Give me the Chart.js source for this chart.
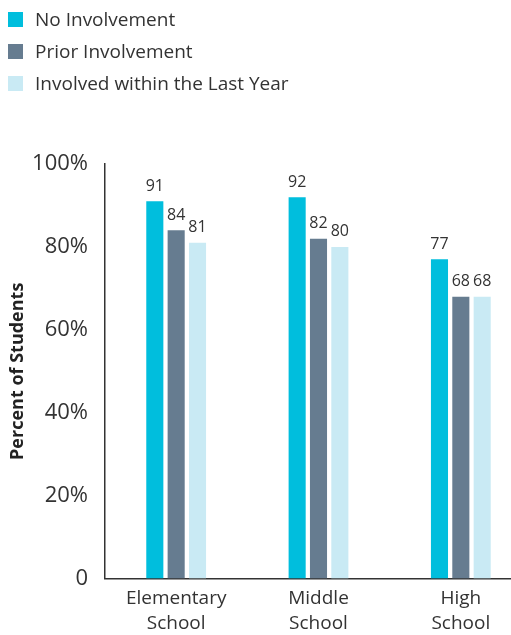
<!DOCTYPE html>
<html>
<head>
<meta charset="utf-8">
<script src="https://cdn.jsdelivr.net/npm/chart.js@4.4.1/dist/chart.umd.min.js"></script>
<style>
  html, body { margin: 0; padding: 0; background: #fff; overflow: hidden; }
  body { width: 511px; height: 635px; position: relative; font-family: 'Open Sans', sans-serif; }
  #legend { position: absolute; left: 8px; top: 3px; z-index: 2; }
  .lg-item { display: flex; align-items: center; height: 32px; color: #333; font-size: 19px; }
  .lg-box { width: 15px; height: 15px; margin-right: 12px; }
  #wrap { position: absolute; left: 0; top: 0; width: 536px; height: 644px; }
</style>
</head>
<body>
<div id="legend"></div>
<div id="wrap"><canvas id="chart"></canvas></div>
<script>
/* ─── DATA ────────────────────────────────────────────────── */
const categories  = [['Elementary', 'School'], ['Middle', 'School'], ['High', 'School']];
const seriesNames = ['No Involvement', 'Prior Involvement', 'Involved within the Last Year'];
const noInvolvement    = [91, 92, 77];
const priorInvolvement = [84, 82, 68];
const lastYear         = [81, 80, 68];
const yTicks = [0, 20, 40, 60, 80, 100];

const colors = ['#00BEDD', '#667C90', '#C9EAF4'];
const values = [noInvolvement, priorInvolvement, lastYear];

/* ─── LEGEND ──────────────────────────────────────────────── */
const legendEl = document.getElementById('legend');
seriesNames.forEach((name, i) => {
  const row = document.createElement('div');
  row.className = 'lg-item';
  row.innerHTML = `<span class="lg-box" style="background:${colors[i]}"></span>${name}`;
  legendEl.appendChild(row);
});

/* ─── VALUE LABELS ────────────────────────────────────────── */
const valueLabels = {
  id: 'valueLabels',
  afterDatasetsDraw(chart) {
    const { ctx } = chart;
    ctx.save();
    ctx.font = '16px "Open Sans"';
    ctx.fillStyle = '#333';
    ctx.textAlign = 'center';
    ctx.textBaseline = 'bottom';
    chart.data.datasets.forEach((ds, di) => {
      chart.getDatasetMeta(di).data.forEach((bar, i) => {
        ctx.fillText(ds.data[i], bar.x, bar.y - 7);
      });
    });
    ctx.restore();
  }
};

/* ─── CHART ───────────────────────────────────────────────── */
new Chart(document.getElementById('chart'), {
  type: 'bar',
  data: {
    labels: categories,
    datasets: values.map((v, i) => ({
      label: seriesNames[i],
      data: v,
      backgroundColor: colors[i],
      barPercentage: 0.8,
      categoryPercentage: 0.45,
    })),
  },
  options: {
    responsive: true,
    maintainAspectRatio: false,
    animation: false,
    layout: { padding: { top: 164, right: 4, left: 0, bottom: 0 } },
    plugins: { legend: { display: false }, tooltip: { enabled: false } },
    scales: {
      x: {
        grid: { display: false, drawTicks: false },
        border: { color: '#333', width: 1.5 },
        ticks: { color: '#333', font: { family: 'Open Sans', size: 19, lineHeight: 1.3 }, padding: 8, maxRotation: 0 },
      },
      y: {
        min: 0, max: 100,
        afterFit: s => { s.width = 105; },
        afterBuildTicks: s => { s.ticks = yTicks.map(v => ({ value: v })); },
        grid: { display: false, drawTicks: false },
        border: { color: '#333', width: 1.5 },
        ticks: { color: '#333', font: { family: 'Open Sans', size: 22 }, padding: 17,
                 callback: v => v === 0 ? '0' : v + '%' },
        title: { display: true, text: 'Percent of Students', color: '#222',
                 font: { family: 'Open Sans', size: 18, weight: 'bold' }, padding: { top: 7 } },
      },
    },
  },
  plugins: [valueLabels],
});
</script>
</body>
</html>
